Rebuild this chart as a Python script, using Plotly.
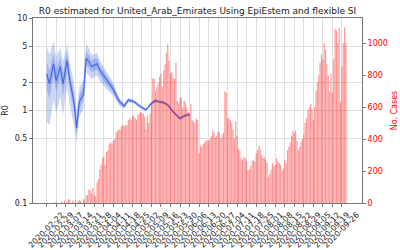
import pandas as pd
import plotly.graph_objects as go

# ---------------- data ----------------
case_start = "2020-02-22"
cases = [
    1, 0, 0, 0, 0, 0, 3, 4, 0, 0,
    0, 12, 0, 15, 0, 6, 25, 20, 0, 15,
    0, 15, 0, 12, 20, 13, 0, 23, 15, 45,
    50, 85, 80, 63, 95, 53, 41, 130, 150, 210,
    240, 280, 290, 240, 320, 330, 370, 380, 370, 390,
    400, 440, 450, 460, 460, 480, 490, 480, 490, 485,
    520, 530, 520, 540, 550, 530, 520, 550, 560, 570,
    560, 560, 540, 460, 550, 500, 560, 620, 780, 780,
    700, 725, 750, 790, 810, 730, 830, 870, 940, 994,
    890, 810, 820, 780, 780, 880, 640, 625, 660, 660,
    600, 640, 630, 600, 570, 560, 620, 520, 510, 500,
    530, 520, 310, 360, 350, 370, 380, 390, 395, 390,
    400, 420, 455, 440, 410, 420, 450, 440, 405, 430,
    440, 700, 690, 530, 530, 520, 500, 460, 400, 510,
    420, 340, 330, 280, 270, 290, 280, 260, 205, 210,
    230, 265, 270, 260, 310, 330, 360, 340, 300, 280,
    290, 270, 250, 165, 180, 210, 250, 230, 240, 280,
    260, 250, 240, 200, 215, 270, 250, 330, 350, 380,
    420, 450, 435, 455, 390, 330, 350, 380, 400, 430,
    500, 530, 580, 600, 620, 590, 520, 600, 700, 750,
    800, 880, 930, 900, 1000, 960, 870, 800, 700, 810,
    690, 900, 1090, 1080, 1000, 1095, 634, 855, 1000, 1100, 1000,
]

r_dates = [
    "2020-02-22", "2020-02-24", "2020-02-27", "2020-02-29", "2020-03-03",
    "2020-03-05", "2020-03-08", "2020-03-10", "2020-03-13", "2020-03-15",
    "2020-03-17", "2020-03-20", "2020-03-22", "2020-03-24", "2020-03-26",
    "2020-03-30", "2020-04-01", "2020-04-06", "2020-04-11", "2020-04-15",
    "2020-04-17", "2020-04-19", "2020-04-22", "2020-04-26", "2020-05-01",
    "2020-05-05", "2020-05-09", "2020-05-12", "2020-05-15", "2020-05-18",
    "2020-05-21", "2020-05-25", "2020-05-30", "2020-06-03", "2020-06-06",
]
r_median = [2.5, 1.95, 3.2, 2.1, 3.0, 1.95, 3.5, 2.1, 1.25, 0.65,
            1.25, 1.5, 3.7, 3.4, 3.0, 3.2, 2.75, 2.15, 1.7, 1.28,
            1.18, 1.12, 1.3, 1.25, 1.1, 1.02, 1.2, 1.28, 1.24, 1.22,
            1.15, 0.97, 0.82, 0.89, 0.9]
r_lo95 = [0.75, 0.7, 1.3, 0.95, 1.4, 0.9, 1.8, 1.15, 0.7, 0.45,
          0.85, 1.05, 2.6, 2.4, 2.2, 2.4, 2.1, 1.7, 1.45, 1.15,
          1.08, 1.05, 1.22, 1.19, 1.05, 0.98, 1.15, 1.22, 1.19, 1.17,
          1.1, 0.93, 0.79, 0.86, 0.87]
r_lo50 = [1.7, 1.35, 2.4, 1.6, 2.3, 1.45, 2.8, 1.7, 1.0, 0.55,
          1.05, 1.3, 3.1, 2.9, 2.6, 2.8, 2.4, 1.9, 1.55, 1.2,
          1.13, 1.08, 1.26, 1.22, 1.08, 1.0, 1.17, 1.25, 1.21, 1.19,
          1.12, 0.95, 0.8, 0.87, 0.88]
r_hi50 = [3.4, 2.7, 4.2, 2.8, 3.8, 2.55, 4.3, 2.6, 1.55, 0.8,
          1.5, 1.8, 4.4, 4.0, 3.5, 3.7, 3.1, 2.4, 1.85, 1.36,
          1.24, 1.16, 1.34, 1.28, 1.12, 1.04, 1.23, 1.31, 1.27, 1.25,
          1.18, 0.99, 0.84, 0.91, 0.92]
r_hi95 = [4.9, 4.0, 5.6, 3.8, 4.8, 3.4, 5.2, 3.3, 2.0, 1.0,
          1.8, 2.15, 5.3, 4.7, 4.0, 4.2, 3.5, 2.65, 2.0, 1.42,
          1.28, 1.2, 1.38, 1.31, 1.15, 1.06, 1.25, 1.34, 1.29, 1.27,
          1.2, 1.01, 0.86, 0.93, 0.94]

tick_labels = [
    "2020-02-22", "2020-02-29", "2020-03-07", "2020-03-14", "2020-03-21",
    "2020-03-28", "2020-04-04", "2020-04-11", "2020-04-18", "2020-04-25",
    "2020-05-02", "2020-05-09", "2020-05-16", "2020-05-23", "2020-05-30",
    "2020-06-06", "2020-06-13", "2020-06-20", "2020-06-27", "2020-07-04",
    "2020-07-11", "2020-07-18", "2020-07-25", "2020-08-01", "2020-08-08",
    "2020-08-15", "2020-08-22", "2020-08-29", "2020-09-05", "2020-09-12",
    "2020-09-19", "2020-09-26",
]
r_ticks = [0.1, 0.5, 1, 2, 5, 10]
r_tick_text = ["0.1", "0.5", "1", "2", "5", "10"]
case_ticks = [0, 200, 400, 600, 800, 1000]

# ---------------- figure ----------------
FONT = "DejaVu Sans"
start = pd.Timestamp(case_start)
case_dates = pd.date_range(start, periods=len(cases), freq="D")
rd = pd.to_datetime(r_dates)
xr = [start - pd.Timedelta(days=10.07), start + pd.Timedelta(days=231.8)]

fig = go.Figure()

fig.add_trace(go.Scatter(
    x=list(rd) + list(rd[::-1]), y=r_hi95 + r_lo95[::-1],
    fill="toself", fillcolor="rgba(65,105,225,0.28)", line=dict(width=0),
    mode="lines", hoverinfo="skip", showlegend=False, xaxis="x", yaxis="y"))
fig.add_trace(go.Scatter(
    x=list(rd) + list(rd[::-1]), y=r_hi50 + r_lo50[::-1],
    fill="toself", fillcolor="rgba(65,105,225,0.30)", line=dict(width=0),
    mode="lines", hoverinfo="skip", showlegend=False, xaxis="x", yaxis="y"))
fig.add_trace(go.Scatter(
    x=rd, y=r_median, mode="lines",
    line=dict(color="rgb(70,105,230)", width=1.2),
    showlegend=False, xaxis="x", yaxis="y"))

fig.add_trace(go.Bar(
    x=case_dates, y=cases, marker=dict(color="rgba(255,0,0,0.42)", line=dict(width=0)),
    showlegend=False, xaxis="x", yaxis="y2"))

fig.update_layout(
    width=400, height=250,
    margin=dict(l=33, r=38, t=18, b=47, autoexpand=False),
    paper_bgcolor="white", plot_bgcolor="white",
    font=dict(family=FONT, size=8, color="#222"),
    bargap=0.18,
    title=dict(text="R0 estimated for United_Arab_Emirates Using EpiEstem and flexible SI",
               x=0.5, xref="paper", xanchor="center",
               y=1 - 11 / 250, yref="container", yanchor="middle",
               font=dict(family=FONT, size=9, color="#222")),
    xaxis=dict(
        type="date", range=xr, automargin=False,
        tickvals=pd.to_datetime(tick_labels), ticktext=tick_labels,
        tickangle=-45, ticklabelshift=15,
        tickfont=dict(family=FONT, size=8, color="#222"),
        showgrid=True, gridcolor="#dedede", gridwidth=1,
        showline=True, linecolor="#777", linewidth=1, mirror=True,
        ticks="outside", ticklen=3, tickcolor="#777",
        zeroline=False,
    ),
    yaxis=dict(
        type="log", range=[-1.0, 1.002], automargin=False,
        tickmode="array", tickvals=r_ticks, ticktext=r_tick_text,
        ticklabeloverflow="allow",
        tickfont=dict(family=FONT, size=8, color="#222"),
        showgrid=True, gridcolor="#dedede", gridwidth=1,
        showline=True, linecolor="#777", linewidth=1, mirror=True,
        ticks="outside", ticklen=3, tickcolor="#777",
        title=dict(text="R0", font=dict(family=FONT, size=8, color="#222"), standoff=4),
        zeroline=False,
    ),
    yaxis2=dict(
        overlaying="y", side="right", range=[0, 1158], automargin=False,
        tickvals=case_ticks,
        tickfont=dict(family=FONT, size=8, color="red"),
        showgrid=False, zeroline=False,
        showline=True, linecolor="#777", linewidth=1,
        ticks="outside", ticklen=3, tickcolor="#777",
        title=dict(text="No. Cases", font=dict(family=FONT, size=8, color="red"), standoff=4),
    ),
)

fig.write_html("out.html")
